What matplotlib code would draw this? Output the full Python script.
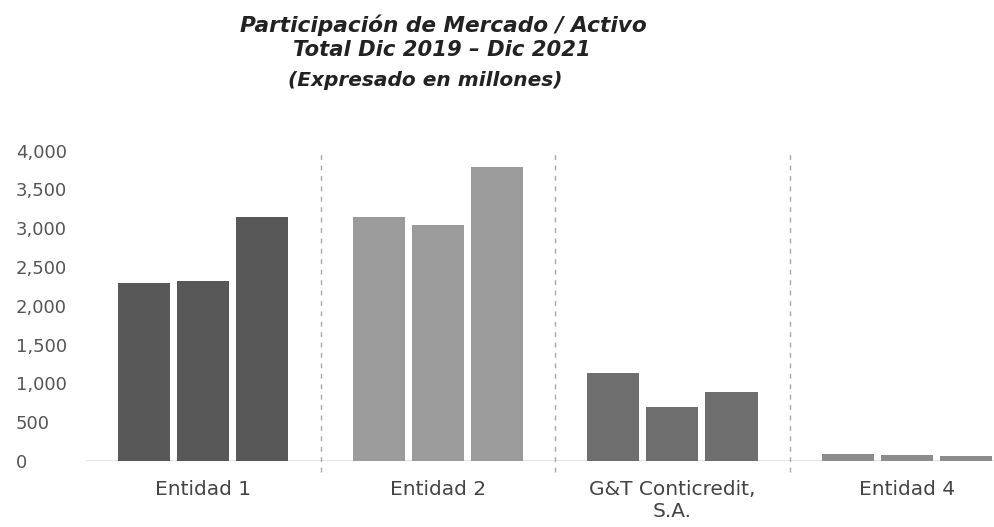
import matplotlib
matplotlib.use("Agg")
import matplotlib.pyplot as plt
from matplotlib import font_manager
import numpy as np

categories = ["Entidad 1", "Entidad 2", "G&T Conticredit,\nS.A.", "Entidad 4"]
dic_2019 = [2290, 3150, 1130, 86]
dic_2020 = [2320, 3040, 700, 73]
dic_2021 = [3140, 3790, 893, 64]
yticks = [0, 500, 1000, 1500, 2000, 2500, 3000, 3500, 4000]
ytick_labels = ["0", "500", "1,000", "1,500", "2,000", "2,500", "3,000", "3,500", "4,000"]

group_colors = ["#585858", "#9b9b9b", "#6e6e6e", "#8c8c8c"]


def tfont(size):
    return font_manager.FontProperties(family="DejaVu Sans", weight="bold",
                                       style="italic", size=size)


fig = plt.figure(figsize=(9.95, 5.27), dpi=100)
ax = fig.add_axes([86/995, 1 - 461/527, 1 - 86/995, (461 - 150.6)/527])

x = np.arange(len(categories))
w = 0.222
for off, vals in zip([-0.2516, 0.0, 0.2516], [dic_2019, dic_2020, dic_2021]):
    ax.bar(x + off, vals, width=w, color=group_colors, edgecolor="none", zorder=3)

ax.axhline(0, color="#e2e2e2", lw=2, zorder=1)
for sep in [0.5, 1.5, 2.5]:
    ax.axvline(sep, ymin=-0.035, ymax=1, color="#a8a8a8", lw=1,
               linestyle=(0, (3.5, 4)), clip_on=False, zorder=2)

ax.set_xlim(-0.5, 3.375)
ax.set_ylim(0, 4000)
ax.set_yticks(yticks)
ax.set_yticklabels(ytick_labels, fontsize=13, color="#555555", family="DejaVu Sans")
for lab in ax.get_yticklabels():
    lab.set_ha("left")
ax.tick_params(axis="y", length=0, pad=50.4)
ax.set_xticks(x)
ax.set_xticklabels(categories, fontsize=14.5, color="#444444", family="DejaVu Sans",
                   linespacing=1.2)
ax.tick_params(axis="x", length=0, pad=13.5)
for s in ax.spines.values():
    s.set_visible(False)

fig.text(443/995, 1 - 32/527, "Participación de Mercado / Activo", ha="center", va="baseline",
         fontproperties=tfont(15.6), color="#222222")
fig.text(442/995, 1 - 56.5/527, "Total Dic 2019 – Dic 2021", ha="center", va="baseline",
         fontproperties=tfont(15.2), color="#222222")
fig.text(425/995, 1 - 86/527, "(Expresado en millones)", ha="center", va="baseline",
         fontproperties=tfont(14.5), color="#222222")

fig.savefig("out.png", dpi=100, facecolor="white")
